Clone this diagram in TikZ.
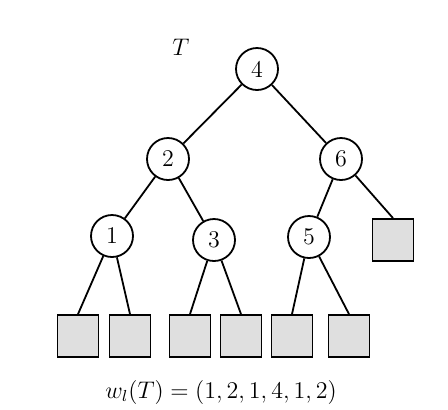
\documentclass[tikz,border=0pt]{standalone}
\begin{document}
\begin{tikzpicture}[x=0.5pt,y=-0.5pt,
  every node/.style={font=\fontsize{12}{14}\selectfont},
  key/.style={circle,draw,line width=0.9pt,minimum size=21pt,inner sep=0pt},
  leaf/.style={rectangle,draw,line width=0.9pt,fill=gray!25,minimum width=20.5pt,minimum height=21pt,inner sep=0pt},
  edge/.style={line width=0.9pt}]
\useasboundingbox[fill=white] (0,0) rectangle (448,409);
% internal keys
\node[key] (k4) at (257,69) {4};
\node[key] (k2) at (168,159) {2};
\node[key] (k6) at (341,159) {6};
\node[key] (k1) at (112,236) {1};
\node[key] (k3) at (214,240) {3};
\node[key] (k5) at (309,237) {5};
% external leaves
\node[leaf] (l6) at (393,240) {};
\node[leaf] (a) at (78,336) {};
\node[leaf] (b) at (130,336) {};
\node[leaf] (c) at (190,336) {};
\node[leaf] (d) at (241,336) {};
\node[leaf] (e) at (292,336) {};
\node[leaf] (f) at (349,336) {};
% edges
\draw[edge] (k4) -- (k2);
\draw[edge] (k4) -- (k6);
\draw[edge] (k2) -- (k1);
\draw[edge] (k2) -- (k3);
\draw[edge] (k6) -- (k5);
\draw[edge] (k6) -- (l6.north);
\draw[edge] (k1) -- (a.north);
\draw[edge] (k1) -- (b.north);
\draw[edge] (k3) -- (c.north);
\draw[edge] (k3) -- (d.north);
\draw[edge] (k5) -- (e.north);
\draw[edge] (k5) -- (f.north);
% labels
\node[font=\fontsize{13}{15}\selectfont] (tl) at (181,47) {$T$};
\node (wl) at (221,392) {$w_l(T) = (1,2,1,4,1,2)$};
\end{tikzpicture}
\end{document}
